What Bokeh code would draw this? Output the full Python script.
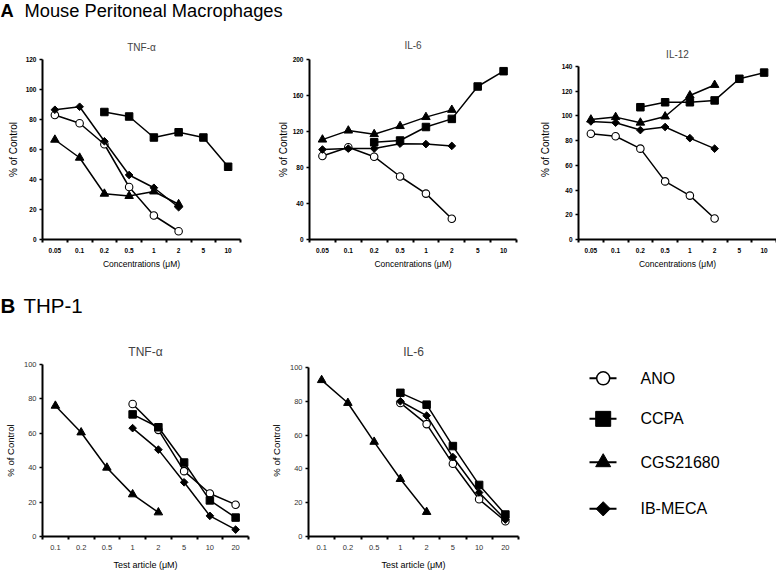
import math
from bokeh.plotting import figure
from bokeh.models import FixedTicker, Range1d
from bokeh.layouts import column, row
from bokeh.embed import file_html
from bokeh.resources import INLINE
from bokeh.core.properties import value

FONT = "Liberation Sans"

# ---------------- data ----------------
A_X = ["0.05", "0.1", "0.2", "0.5", "1", "2", "5", "10"]
A_X_LOW = ["0.05", "0.1", "0.2", "0.5", "1", "2"]
A_X_CCPA = ["0.2", "0.5", "1", "2", "5", "10"]

B_X = ["0.1", "0.2", "0.5", "1", "2", "5", "10", "20"]
B_X_CGS = ["0.1", "0.2", "0.5", "1", "2"]
B_X_OTHER = ["1", "2", "5", "10", "20"]

A_TNF_ANO = [83, 77.5, 63.5, 35, 16, 5.5]
A_TNF_CCPA = [85, 82, 68, 71.5, 68, 48.5]
A_TNF_CGS = [66.5, 54.5, 30.5, 29, 32, 23.5]
A_TNF_IBMECA = [86.5, 88.5, 65.5, 43, 34.5, 21.5]

A_IL6_ANO = [92.7, 102.5, 92, 70, 51, 23]
A_IL6_CCPA = [108, 110, 125, 134, 170, 187]
A_IL6_CGS = [111, 121, 117, 126, 136, 144]
A_IL6_IBMECA = [100, 101, 101, 106.5, 106, 104]

A_IL12_ANO = [85.5, 83.5, 73.5, 47, 35.5, 17]
A_IL12_CCPA = [107, 111, 111, 112.5, 130, 135]
A_IL12_CGS = [97, 99, 94.5, 99.5, 116.5, 125]
A_IL12_IBMECA = [95.5, 94.5, 88.5, 91, 82, 73.5]

B_TNF_ANO = [77, 62, 38, 25, 18.5]
B_TNF_CCPA = [71, 63.5, 43, 21, 11]
B_TNF_CGS = [76, 60.5, 40, 24.5, 14]
B_TNF_IBMECA = [63, 50.5, 31.5, 12, 4]

B_IL6_ANO = [79, 66.5, 43, 22, 9]
B_IL6_CCPA = [85, 78, 53.5, 30.5, 13]
B_IL6_CGS = [92.5, 79, 56, 34, 14.5]
B_IL6_IBMECA = [80, 71.5, 47, 26, 10]

SERIES_NAMES = ["ANO", "CCPA", "CGS21680", "IB-MECA"]


def marker_kw(name, size):
    if name == "ANO":
        return dict(marker="circle", size=size, fill_color="white",
                    line_color="black", line_width=1.1)
    if name == "CCPA":
        return dict(marker="square", size=size, fill_color="black",
                    line_color="black", line_width=1)
    if name == "CGS21680":
        return dict(marker="triangle", size=size + 1, fill_color="black",
                    line_color="black", line_width=1)
    return dict(marker="square", size=size * 0.72, angle=math.pi / 4,
                fill_color="black", line_color="black", line_width=1)


def base_fig(width, height, left, right, top, bottom, x_range, y_range):
    p = figure(width=width, height=height, min_border_left=left,
               min_border_right=right, min_border_top=top,
               min_border_bottom=bottom, x_range=x_range, y_range=y_range,
               output_backend="svg", toolbar_location=None)
    p.outline_line_color = None
    p.xgrid.visible = False
    p.ygrid.visible = False
    p.background_fill_color = "white"
    p.border_fill_color = "white"
    return p


def panel(title, cats, series, y_max, y_step, y_end, width, height, left,
          right, top, bottom, top_row, xlabel, title_standoff, ylab_standoff):
    p = base_fig(width, height, left, right, top, bottom,
                 Range1d(-0.5, len(cats) - 0.5), Range1d(0, y_end))
    p.title.text = title
    p.title.align = "center"
    p.title.text_font = FONT
    p.title.text_font_style = "normal"
    p.title.text_font_size = "10px" if top_row else "12px"
    p.title.standoff = title_standoff
    for name, xs, ys in series:
        xi = [cats.index(c) for c in xs]
        p.line(xi, ys, line_color="black", line_width=1.5)
        p.scatter(xi, ys, **marker_kw(name, 7.5))

    xa = p.xaxis[0]
    xa.ticker = FixedTicker(ticks=list(range(len(cats))),
                            minor_ticks=[i - 0.5 for i in range(len(cats) + 1)])
    xa.major_label_overrides = {i: c for i, c in enumerate(cats)}
    xa.major_tick_out = 0
    xa.major_tick_in = 0
    xa.minor_tick_out = 3
    xa.minor_tick_in = 0
    xa.minor_tick_line_width = 2
    xa.minor_tick_line_color = "black"
    xa.axis_line_width = 2
    xa.axis_line_color = "black"
    xa.major_label_standoff = 5
    xa.axis_label = xlabel
    xa.axis_label_standoff = 3 if top_row else 7
    xa.axis_label_text_font = FONT
    xa.axis_label_text_font_style = "normal"
    xa.axis_label_text_font_size = "8.5px" if top_row else "9px"
    xa.axis_label_text_color = "black"

    ya = p.yaxis[0]
    ya.ticker = FixedTicker(ticks=list(range(0, y_max + 1, y_step)))
    ya.bounds = (0, y_max)
    ya.major_tick_out = 3
    ya.major_tick_in = 0
    ya.major_tick_line_width = 1.5
    ya.major_tick_line_color = "black"
    ya.minor_tick_out = 0
    ya.minor_tick_in = 0
    ya.axis_line_width = 2
    ya.axis_line_color = "black"
    ya.major_label_standoff = 3
    ya.axis_label = "% of Control"
    ya.axis_label_standoff = ylab_standoff
    ya.axis_label_text_font = FONT
    ya.axis_label_text_font_style = "normal"
    ya.axis_label_text_font_size = "10px" if top_row else "9.5px"
    ya.axis_label_text_color = "black"

    for ax in (xa, ya):
        ax.major_label_text_font = FONT
        if top_row:
            ax.major_label_text_font_style = "bold"
            ax.major_label_text_font_size = "6.5px"
            ax.major_label_text_color = "black"
        else:
            ax.major_label_text_font_style = "normal"
            ax.major_label_text_font_size = "7.5px"
            ax.major_label_text_color = "#333333"
    return p


def header(width, height, letter, text, y, x_text, size):
    p = base_fig(width, height, 0, 0, 0, 0, Range1d(0, width), Range1d(height, 0))
    p.axis.visible = False
    p.text(x=[0], y=[y], text=[letter], text_font=value(FONT),
           text_font_size=size, text_font_style="bold",
           text_baseline="middle", text_color="black")
    p.text(x=[x_text], y=[y], text=[text], text_font=value(FONT),
           text_font_size=size, text_baseline="middle", text_color="black")
    return p


CONC = "Concentrations (\u03bcM)"
TEST = "Test article (\u03bcM)"

# top row: height 244, frame 182 px
pA1 = panel("TNF-\u03b1", A_X,
            [("ANO", A_X_LOW, A_TNF_ANO), ("CCPA", A_X_CCPA, A_TNF_CCPA),
             ("CGS21680", A_X_LOW, A_TNF_CGS), ("IB-MECA", A_X_LOW, A_TNF_IBMECA)],
            120, 20, 120, 264, 244, 42, 24, 29, 33, True, CONC, 12.5, 4)
pA2 = panel("IL-6", A_X,
            [("ANO", A_X_LOW, A_IL6_ANO), ("CCPA", A_X_CCPA, A_IL6_CCPA),
             ("CGS21680", A_X_LOW, A_IL6_CGS), ("IB-MECA", A_X_LOW, A_IL6_IBMECA)],
            200, 40, 200, 262, 244, 45, 10, 29, 33, True, CONC, 18, 1)
pA3 = panel("IL-12", A_X,
            [("ANO", A_X_LOW, A_IL12_ANO), ("CCPA", A_X_CCPA, A_IL12_CCPA),
             ("CGS21680", A_X_LOW, A_IL12_CGS), ("IB-MECA", A_X_LOW, A_IL12_IBMECA)],
            140, 20, 145.6, 250, 244, 52, 0, 29, 33, True, CONC, 0, 8)

# bottom row: height 254, frame 174 px (top border 46, bottom border 34)
pB1 = panel("TNF-\u03b1", B_X,
            [("CGS21680", B_X_CGS, B_TNF_CGS), ("ANO", B_X_OTHER, B_TNF_ANO),
             ("CCPA", B_X_OTHER, B_TNF_CCPA), ("IB-MECA", B_X_OTHER, B_TNF_IBMECA)],
            100, 20, 100, 264, 254, 42, 16, 46, 34, False, TEST, 11, 5)
pB2 = panel("IL-6", B_X,
            [("CGS21680", B_X_CGS, B_IL6_CGS), ("ANO", B_X_OTHER, B_IL6_ANO),
             ("CCPA", B_X_OTHER, B_IL6_CCPA), ("IB-MECA", B_X_OTHER, B_IL6_IBMECA)],
            100, 20, 101.75, 262, 254, 44, 8, 46, 34, False, TEST, 11, 5)

# legend panel: same borders as its row so frames align; y measured from figure top
leg = base_fig(250, 254, 0, 0, 46, 34, Range1d(0, 250), Range1d(220, 46))
leg.axis.visible = False
leg_y = [60, 101, 145, 192]
for name, yy in zip(SERIES_NAMES, leg_y):
    leg.line([63, 90], [yy, yy], line_color="black", line_width=2)
    kw = marker_kw(name, 14)
    if name == "CCPA":
        kw["size"] = 15
    if name == "ANO":
        kw["size"] = 13
        kw["line_width"] = 1.5
    leg.scatter([76.7], [yy], **kw)
    leg.text(x=[114], y=[yy], text=[name], text_font=value(FONT),
             text_font_size="16px", text_baseline="middle", text_color="black")

hA = header(776, 28, "A", "Mouse Peritoneal Macrophages", 10, 24, "18.3px")
hB = header(776, 46, "B", "THP-1", 33, 23, "20.5px")

layout = column(hA, row(pA1, pA2, pA3), hB, row(pB1, pB2, leg))

open("out.html", "w").write(file_html(layout, INLINE))
